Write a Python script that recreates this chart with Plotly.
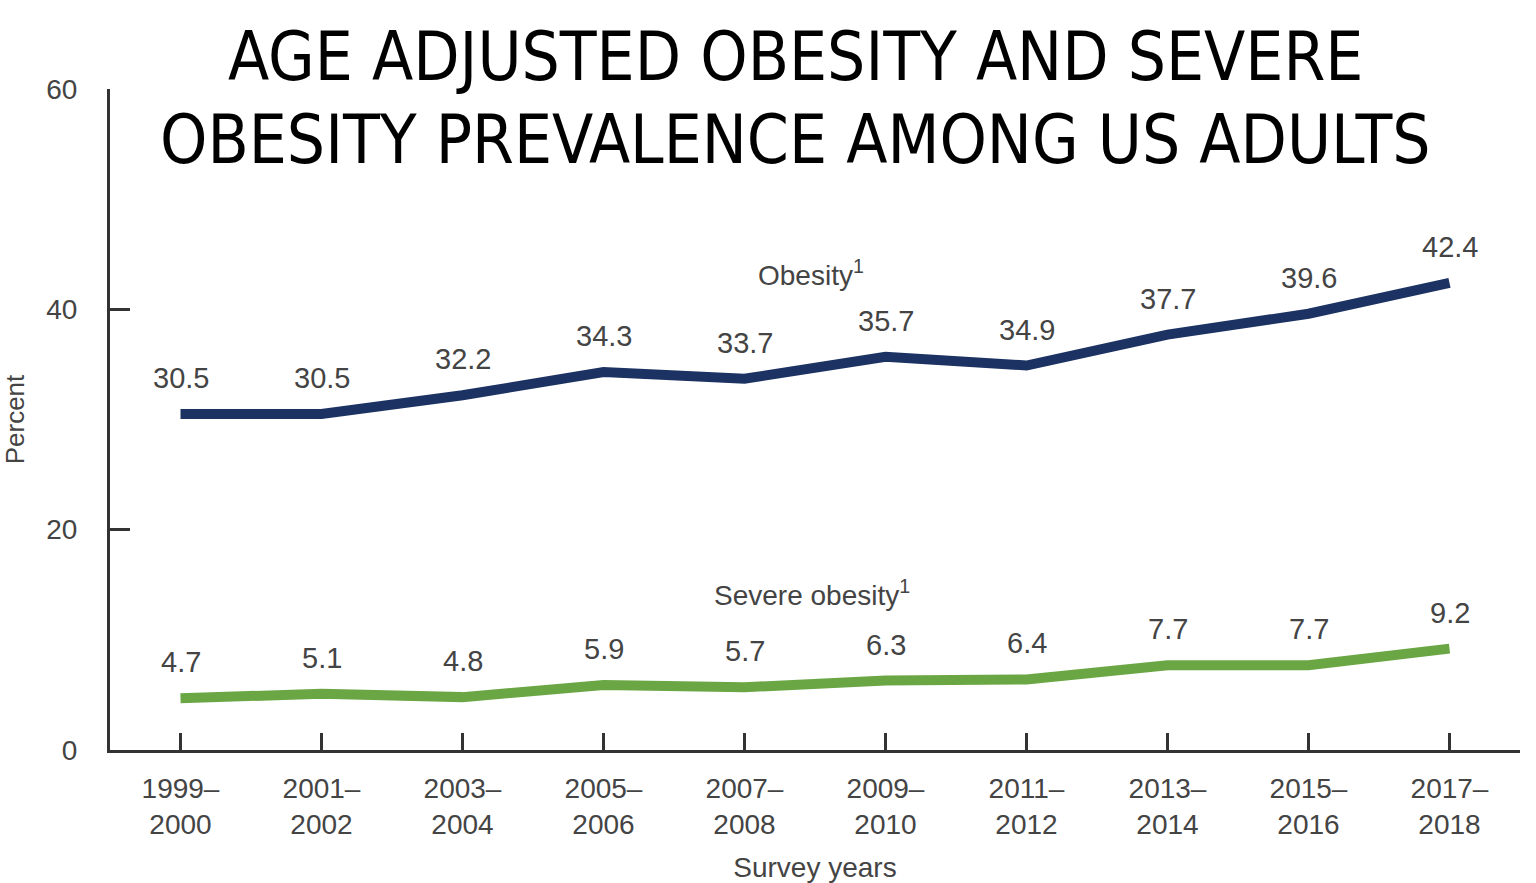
import plotly.graph_objects as go

categories = ["1999–<br>2000", "2001–<br>2002", "2003–<br>2004", "2005–<br>2006", "2007–<br>2008",
              "2009–<br>2010", "2011–<br>2012", "2013–<br>2014", "2015–<br>2016", "2017–<br>2018"]
obesity = [30.5, 30.5, 32.2, 34.3, 33.7, 35.7, 34.9, 37.7, 39.6, 42.4]
severe = [4.7, 5.1, 4.8, 5.9, 5.7, 6.3, 6.4, 7.7, 7.7, 9.2]
y_ticks = [0, 20, 40, 60]

NAVY = "#1c3262"
GREEN = "#6aa744"
GRAY = "#444444"
AXIS = "#333333"
FONT = "Liberation Sans, Arial, sans-serif"

xs = list(range(len(categories)))

fig = go.Figure()
fig.add_trace(go.Scatter(x=xs, y=obesity, mode="lines", line=dict(color=NAVY, width=10),
                         hoverinfo="skip", showlegend=False))
fig.add_trace(go.Scatter(x=xs, y=severe, mode="lines", line=dict(color=GREEN, width=10),
                         hoverinfo="skip", showlegend=False))

annotations = []
for series in (obesity, severe):
    for x, v in zip(xs, series):
        annotations.append(dict(x=x, y=v, text=f"{v:.1f}", showarrow=False, yshift=36,
                                font=dict(family=FONT, size=29, color=GRAY)))

annotations.append(dict(x=4.47, y=43.3, text="Obesity<sup>1</sup>", showarrow=False,
                        font=dict(family=FONT, size=28, color=GRAY)))
annotations.append(dict(x=4.48, y=14.25, text="Severe obesity<sup>1</sup>", showarrow=False,
                        font=dict(family=FONT, size=28, color=GRAY)))

TFONT = "Liberation Sans Narrow, DejaVu Sans Condensed, sans-serif"
annotations.append(dict(xref="paper", yref="paper", x=0.4861, y=1.0, yanchor="middle",
                        yshift=32, text="AGE ADJUSTED OBESITY AND SEVERE", showarrow=False,
                        font=dict(family=TFONT, size=67, color="black")))
annotations.append(dict(xref="paper", yref="paper", x=0.4861, y=1.0, yanchor="middle",
                        yshift=-51, text="OBESITY PREVALENCE AMONG US ADULTS", showarrow=False,
                        font=dict(family=TFONT, size=67, color="black")))

fig.update_layout(
    width=1536, height=883,
    margin=dict(l=110, r=16, t=89, b=133),
    paper_bgcolor="white", plot_bgcolor="white",
    font=dict(family=FONT, color=GRAY),
    annotations=annotations,
    xaxis=dict(
        range=[-0.5, 9.5], tickmode="array", tickvals=xs, ticktext=categories,
        showgrid=False, zeroline=False, showline=True, linecolor=AXIS, linewidth=3,
        ticks="inside", ticklen=17, tickwidth=3, tickcolor=AXIS, automargin=False,
        tickfont=dict(family=FONT, size=28, color=GRAY), ticklabelstandoff=11,
        title=dict(text="Survey years", font=dict(family=FONT, size=28, color=GRAY), standoff=19),
    ),
    yaxis=dict(
        range=[0, 60], tickmode="array", tickvals=y_ticks, ticktext=[str(t) for t in y_ticks],
        showgrid=False, zeroline=False, showline=True, linecolor=AXIS, linewidth=3,
        ticks="inside", ticklen=20, tickwidth=3, tickcolor=AXIS, automargin=False,
        tickfont=dict(family=FONT, size=28, color=GRAY), ticklabelstandoff=24,
        title=dict(text="Percent", font=dict(family=FONT, size=26, color=GRAY), standoff=17),
    ),
)

fig.write_html("out.html")
